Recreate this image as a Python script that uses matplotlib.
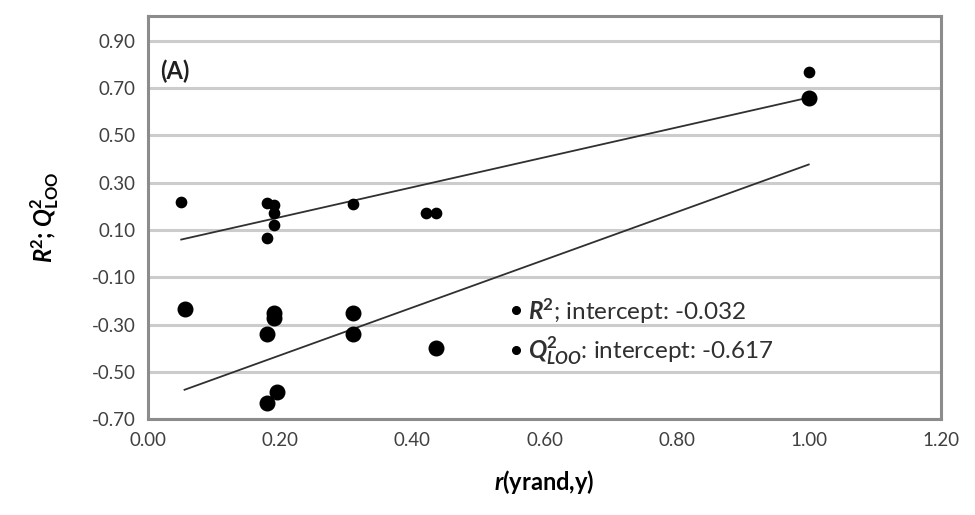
import numpy as np
import matplotlib.pyplot as plt
from matplotlib.lines import Line2D

plt.rcParams['font.family'] = ['Lato', 'DejaVu Sans']
plt.rcParams['mathtext.fontset'] = 'custom'
plt.rcParams['mathtext.rm'] = 'Lato'
plt.rcParams['mathtext.it'] = 'Lato:italic'
plt.rcParams['mathtext.bf'] = 'Lato:bold'
plt.rcParams['mathtext.bfit'] = 'Lato:bold:italic'

# R2 of y-randomized models vs r(yrand, y)
r2_x = [0.05, 0.18, 0.19, 0.19, 0.19, 0.18, 0.31, 0.42, 0.435, 1.00]
r2_y = [0.22, 0.215, 0.205, 0.17, 0.12, 0.065, 0.21, 0.17, 0.17, 0.77]

# Q2_LOO of y-randomized models vs r(yrand, y)
q2_x = [0.055, 0.19, 0.19, 0.18, 0.31, 0.31, 0.435, 0.195, 0.18, 1.00]
q2_y = [-0.235, -0.25, -0.27, -0.34, -0.25, -0.34, -0.40, -0.585, -0.63, 0.66]

# trend lines as drawn in the figure (slope, intercept)
r2_trend = [0.632, 0.028]
q2_trend = [1.008, -0.631]

legend_labels = [r"$\mathbfit{R}^\mathbf{2}$; intercept: -0.032",
                 r"$\mathbfit{Q}^\mathbf{2}_\mathbfit{LOO}$: intercept: -0.617"]
x_ticks = [0.0, 0.2, 0.4, 0.6, 0.8, 1.0, 1.2]
y_ticks = [-0.7, -0.5, -0.3, -0.1, 0.1, 0.3, 0.5, 0.7, 0.9]

fig = plt.figure(figsize=(9.75, 5.15), dpi=100)
ax = fig.add_axes([0.152, 0.186, 0.813, 0.783])

ax.scatter(r2_x, r2_y, s=55, color='black', zorder=3)
ax.scatter(q2_x, q2_y, s=110, color='black', zorder=3)

for xs, (k, b) in [(r2_x, r2_trend), (q2_x, q2_trend)]:
    xx = np.array([min(xs), max(xs)])
    ax.plot(xx, k * xx + b, color='#303030', lw=1.3, zorder=2)

ax.set_xlim(0, 1.2)
ax.set_ylim(-0.7, 1.005)
ax.set_xticks(x_ticks)
ax.set_yticks(y_ticks)
ax.xaxis.set_major_formatter(plt.FormatStrFormatter('%.2f'))
ax.yaxis.set_major_formatter(plt.FormatStrFormatter('%.2f'))
ax.tick_params(length=0, labelsize=13.5, colors='#404040', pad=9)
ax.grid(axis='y', color='#cccccc', lw=2.2)
ax.set_axisbelow(True)
for sp in ax.spines.values():
    sp.set_color('#8c8c8c')
    sp.set_linewidth(2.2)

ax.set_xlabel(r"$\mathbfit{r}$(yrand,y)", fontsize=17, fontweight='bold', labelpad=14)
ax.set_ylabel(r"$\mathbfit{R}^\mathbf{2}$; $\mathbfit{Q}^\mathbf{2}_\mathbf{LOO}$", fontsize=17,
              fontweight='bold', labelpad=22)

ax.text(0.015, 0.862, "(A)", transform=ax.transAxes, fontsize=17, fontweight='bold',
        color='#202020', va='center', ha='left')

handles = [Line2D([], [], ls='', marker='o', color='black', ms=5.5),
           Line2D([], [], ls='', marker='o', color='black', ms=5.5)]
ax.legend(handles, legend_labels, loc='upper left', bbox_to_anchor=(0.43, 0.36),
          frameon=False, fontsize=17.5, handlelength=0.4, handletextpad=0.3,
          labelspacing=0.4, labelcolor='#303030')

fig.savefig("out.png", dpi=100)
